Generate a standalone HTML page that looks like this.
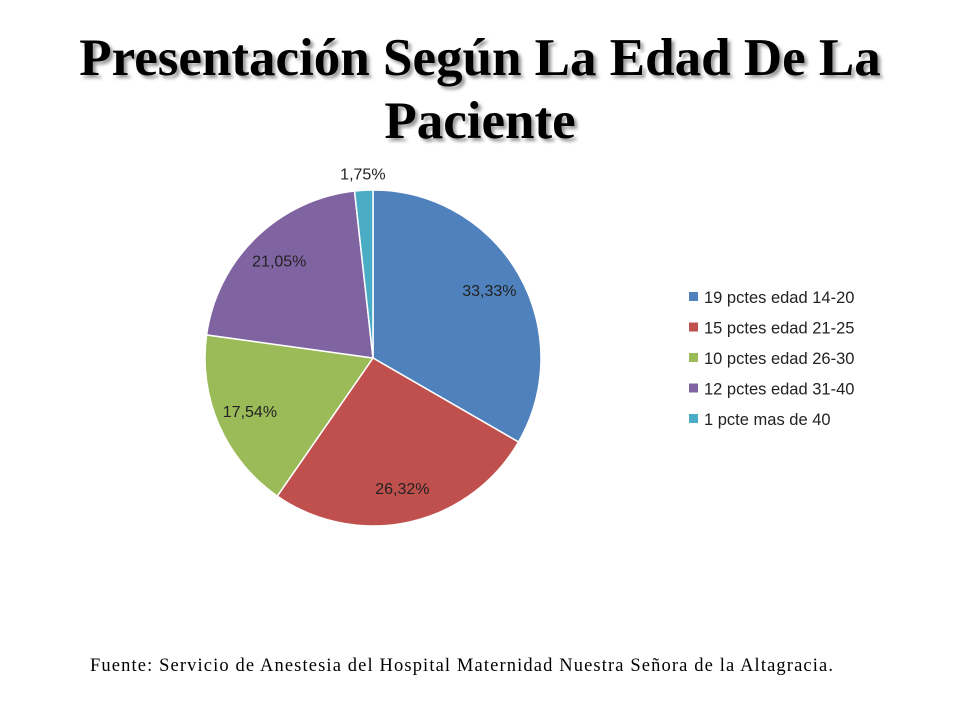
<!DOCTYPE html>
<html><head><meta charset="utf-8"><style>
body{margin:0;width:960px;height:720px;background:#fff;overflow:hidden;position:relative;font-family:"Liberation Sans",sans-serif}
#title{position:absolute;left:0;top:27px;width:960px;text-align:center;font-family:"Liberation Serif",serif;font-weight:bold;font-size:53px;line-height:63px;color:#000;text-shadow:3px 3px 3px #999}
</style></head><body>
<div id="title">Presentación Según La Edad De La<br>Paciente</div>
<svg id="chart" width="960" height="720" style="position:absolute;left:0;top:0">
<text x="90" y="671" font-family="Liberation Serif, serif" font-size="18.5" fill="#000" textLength="743" lengthAdjust="spacing">Fuente: Servicio de Anestesia del Hospital Maternidad Nuestra Señora de la Altagracia.</text>
</svg>
<script>
const categories=["19 pctes edad 14-20","15 pctes edad 21-25","10 pctes edad 26-30","12 pctes edad 31-40","1 pcte mas de 40"];
const values=[19,15,10,12,1];
const pctLabels=["33,33%","26,32%","17,54%","21,05%","1,75%"];
const colors=["#4f81bd","#c0504d","#9bbb59","#8064a2","#4bacc6"];
const svg=document.getElementById('chart');const NS="http://www.w3.org/2000/svg";
const cx=373,cy=358,r=168;
const total=values.reduce((a,b)=>a+b,0);
function pt(a,rr){return [cx+rr*Math.sin(a),cy-rr*Math.cos(a)];}
let acc=0;
values.forEach((v,i)=>{
 const a0=acc/total*2*Math.PI;acc+=v;const a1=acc/total*2*Math.PI;
 const p0=pt(a0,r),p1=pt(a1,r);const large=(a1-a0)>Math.PI?1:0;
 const p=document.createElementNS(NS,'path');
 p.setAttribute('d',`M${cx},${cy}L${p0[0]},${p0[1]}A${r},${r} 0 ${large} 1 ${p1[0]},${p1[1]}Z`);
 p.setAttribute('fill',colors[i]);p.setAttribute('stroke','#fff');p.setAttribute('stroke-width','1.5');
 
 
 svg.appendChild(p);
 const am=(a0+a1)/2;const lr=(v/total<0.05)?r+16:r*0.8;const lp=pt(am,lr);
 const t=document.createElementNS(NS,'text');
 t.setAttribute('x',lp[0]);t.setAttribute('y',lp[1]+5);t.setAttribute('text-anchor','middle');
 t.setAttribute('font-size','16');t.setAttribute('fill','#222');t.setAttribute('font-family','Liberation Sans, sans-serif');
 t.textContent=pctLabels[i];
 
 
 svg.appendChild(t);
 const ly=297+i*30.5;
 const sq=document.createElementNS(NS,'rect');
 sq.setAttribute('x',689);sq.setAttribute('y',ly-5);sq.setAttribute('width',9);sq.setAttribute('height',9);sq.setAttribute('fill',colors[i]);
 
 
 svg.appendChild(sq);
 const lt=document.createElementNS(NS,'text');
 lt.setAttribute('x',704);lt.setAttribute('y',ly+6);lt.setAttribute('font-size','16.5');lt.setAttribute('fill','#222');lt.setAttribute('font-family','Liberation Sans, sans-serif');
 lt.textContent=categories[i];
 
 
 svg.appendChild(lt);
});
</script>
</body></html>
